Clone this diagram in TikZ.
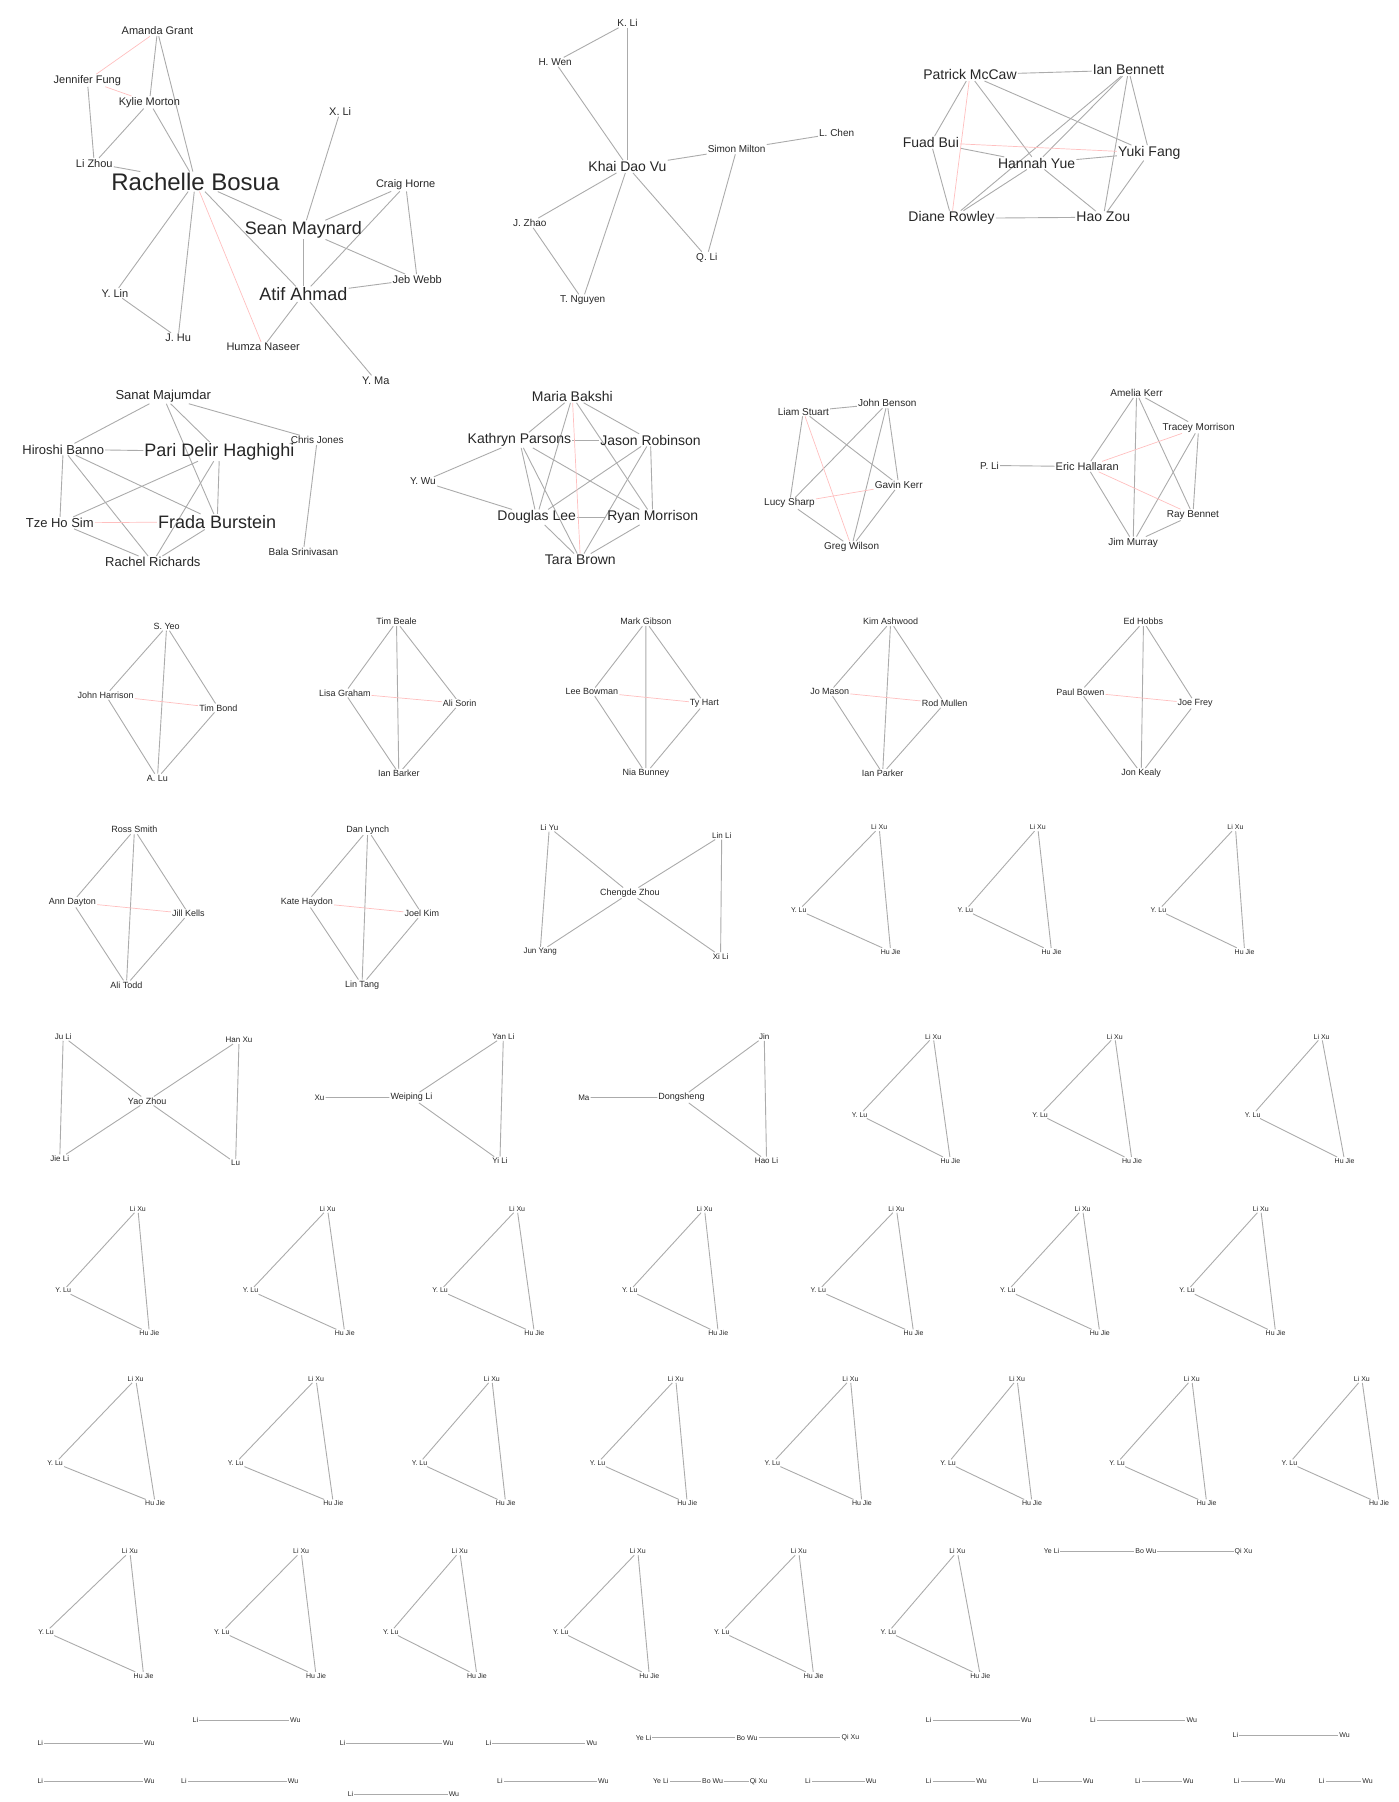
\documentclass[tikz,border=0pt]{standalone}
\usepackage{fontspec}
\setmainfont{Liberation Sans}
\pgfdeclarelayer{bg}
\pgfsetlayers{bg,main}
\tikzset{
  ed/.style={draw=black!33, line width=0.9pt},
  edr/.style={draw=red!25, line width=0.7pt},
  lab/.style={inner sep=1pt, text=black!85},
  fs/.style={font=\fontsize{#1}{#1}\selectfont},
}
\newcommand\lnk[2][ed]{\begin{pgfonlayer}{bg}\foreach \pa/\pb in {#2} \draw[#1] (\pa)--(\pb);\end{pgfonlayer}}
\begin{document}
\begin{tikzpicture}[x=1.1495pt,y=-1.1495pt]
\useasboundingbox (0,0) rectangle (1217,1568);

% ---------- component 1
\begin{scope}[every node/.style={lab,fs=11}]
\node (a1) at (137,27) {Amanda Grant};
\node (a2) at (76,70) {Jennifer Fung};
\node (a3) at (130,89) {Kylie Morton};
\node (a4) at (82,142) {Li Zhou};
\node[fs=24] (a5) at (170,158) {Rachelle Bosua};
\node (a6) at (296,97) {X. Li};
\node[fs=18] (a7) at (264,200) {Sean Maynard};
\node (a8) at (353,161) {Craig Horne};
\node (a9) at (363,243) {Jeb Webb};
\node[fs=18] (a10) at (264,256) {Atif Ahmad};
\node (a11) at (100,255) {Y. Lin};
\node (a12) at (155,294) {J. Hu};
\node (a13) at (229,302) {Humza Naseer};
\node (a14) at (327,331) {Y. Ma};
\end{scope}
\lnk{a1/a3,a1/a5,a2/a4,a3/a4,a3/a5,a4/a5,a5/a7,a5/a10,a5/a11,a5/a12,a7/a6,a7/a8,a7/a9,a7/a10,a10/a9,a10/a14,a10/a13,a11/a12,a8/a9,a8/a10}
\lnk[edr]{a1/a2,a2/a3,a5/a13}

% ---------- component 2
\begin{scope}[every node/.style={lab,fs=10}]
\node (b1) at (546,20) {K. Li};
\node (b2) at (483,54) {H. Wen};
\node[fs=14] (b3) at (546,145) {Khai Dao Vu};
\node (b4) at (641,130) {Simon Milton};
\node (b5) at (728,116) {L. Chen};
\node (b6) at (615,224) {Q. Li};
\node (b7) at (461,194) {J. Zhao};
\node (b8) at (507,261) {T. Nguyen};
\end{scope}
\lnk{b1/b3,b2/b1,b2/b3,b3/b4,b4/b5,b4/b6,b3/b6,b3/b7,b3/b8,b7/b8}

% ---------- component 3
\begin{scope}[every node/.style={lab,fs=14}]
\node (c1) at (844,65) {Patrick McCaw};
\node (c2) at (982,61) {Ian Bennett};
\node (c3) at (810,124) {Fuad Bui};
\node (c4) at (902,142) {Hannah Yue};
\node (c5) at (1000,133) {Yuki Fang};
\node (c6) at (828,190) {Diane Rowley};
\node (c7) at (960,189) {Hao Zou};
\end{scope}
\lnk{c1/c2,c1/c3,c1/c4,c1/c5,c2/c4,c2/c5,c2/c6,c2/c7,c3/c4,c3/c6,c4/c6,c4/c7,c5/c7,c6/c7,c4/c5}
\lnk[edr]{c1/c6,c3/c5}

% ---------- component 4
\begin{scope}[every node/.style={lab,fs=13}]
\node (d1) at (142,345) {Sanat Majumdar};
\node (d2) at (55,391) {Hiroshi Banno};
\node[fs=18] (d3) at (191,393) {Pari Delir Haghighi};
\node[fs=10] (d4) at (276,383) {Chris Jones};
\node (d5) at (52,455) {Tze Ho Sim};
\node[fs=18] (d6) at (189,454) {Frada Burstein};
\node (d7) at (133,489) {Rachel Richards};
\node[fs=10] (d8) at (264,480) {Bala Srinivasan};
\end{scope}
\lnk{d1/d2,d1/d3,d1/d6,d1/d4,d2/d3,d2/d5,d2/d6,d3/d5,d3/d6,d3/d7,d3/d4,d4/d8,d5/d7,d6/d7,d2/d7}
\lnk[edr]{d5/d6}

% ---------- component 5
\begin{scope}[every node/.style={lab,fs=14}]
\node (e1) at (498,345) {Maria Bakshi};
\node (e2) at (452,383) {Kathryn Parsons};
\node (e3) at (566,383) {Jason Robinson};
\node[fs=10] (e4) at (368,419) {Y. Wu};
\node (e5) at (467,450) {Douglas Lee};
\node (e6) at (568,450) {Ryan Morrison};
\node (e7) at (505,487) {Tara Brown};
\end{scope}
\lnk{e1/e2,e1/e3,e1/e5,e1/e6,e2/e3,e2/e5,e2/e6,e2/e7,e3/e5,e3/e6,e3/e7,e5/e6,e5/e7,e6/e7,e4/e2,e4/e5}
\lnk[edr]{e1/e7}

% ---------- component 6
\begin{scope}[every node/.style={lab,fs=10}]
\node (f1) at (699,358) {Liam Stuart};
\node (f2) at (772,351) {John Benson};
\node (f3) at (782,422) {Gavin Kerr};
\node (f4) at (687,438) {Lucy Sharp};
\node (f5) at (741,476) {Greg Wilson};
\end{scope}
\lnk{f1/f2,f1/f4,f2/f3,f2/f4,f2/f5,f3/f5,f4/f5,f1/f3}
\lnk[edr]{f1/f5,f3/f4}

% ---------- component 7
\begin{scope}[every node/.style={lab,fs=10}]
\node (g1) at (989,342) {Amelia Kerr};
\node (g2) at (1043,372) {Tracey Morrison};
\node[fs=11] (g3) at (946,406) {Eric Hallaran};
\node (g4) at (861,405) {P. Li};
\node (g5) at (1038,448) {Ray Bennet};
\node (g6) at (986,472) {Jim Murray};
\end{scope}
\lnk{g4/g3,g3/g1,g3/g6,g1/g2,g1/g6,g2/g5,g2/g6,g5/g6,g1/g5}
\lnk[edr]{g3/g2,g3/g5}

% ---------- diamonds (K4)
\foreach \i/\tx/\ty/\lx/\ly/\rx/\ry/\bx/\by/\ta/\tb/\tc/\td in {
  1/145/545/92/605/190/616/137/677/S. Yeo/John Harrison/Tim Bond/A. Lu,
  2/345/541/300/603/400/612/347/673/Tim Beale/Lisa Graham/Ali Sorin/Ian Barker,
  3/562/541/515/602/613/612/562/673/Mark Gibson/Lee Bowman/Ty Hart/Nia Bunney,
  4/775/541/722/602/822/612/768/673/Kim Ashwood/Jo Mason/Rod Mullen/Ian Parker,
  5/995/541/940/602/1040/612/993/673/Ed Hobbs/Paul Bowen/Joe Frey/Jon Kealy,
  6/117/722/63/785/164/795/110/857/Ross Smith/Ann Dayton/Jill Kells/Ali Todd,
  7/320/722/267/785/367/795/315/857/Dan Lynch/Kate Haydon/Joel Kim/Lin Tang}{
  \begin{scope}[every node/.style={lab,fs=9}]
  \node (q\i t) at (\tx,\ty) {\ta};
  \node (q\i l) at (\lx,\ly) {\tb};
  \node (q\i r) at (\rx,\ry) {\tc};
  \node (q\i b) at (\bx,\by) {\td};
  \end{scope}
  \begin{pgfonlayer}{bg}
  \draw[ed] (q\i t)--(q\i l)--(q\i b)--(q\i r)--(q\i t)--(q\i b);
  \draw[edr] (q\i l)--(q\i r);
  \end{pgfonlayer}
}

% ---------- bowties
\foreach \i/\ax/\ay/\bx/\by/\cx/\cy/\dx/\dy/\ex/\ey/\ta/\tb/\tc/\td/\te in {
  1/478/720/628/727/548/777/470/828/627/832/Li Yu/Lin Li/Chengde Zhou/Jun Yang/Xi Li,
  2/55/902/208/905/128/958/52/1008/205/1012/Ju Li/Han Xu/Yao Zhou/Jie Li/Lu}{
  \begin{scope}[every node/.style={lab,fs=8}]
  \node (w\i a) at (\ax,\ay) {\ta};
  \node (w\i b) at (\bx,\by) {\tb};
  \node[fs=9] (w\i c) at (\cx,\cy) {\tc};
  \node (w\i d) at (\dx,\dy) {\td};
  \node (w\i e) at (\ex,\ey) {\te};
  \end{scope}
  \begin{pgfonlayer}{bg}
  \draw[ed] (w\i a)--(w\i c)--(w\i e) (w\i b)--(w\i c)--(w\i d) (w\i a)--(w\i d) (w\i b)--(w\i e);
  \end{pgfonlayer}
}

% ---------- stars with a leaf
\foreach \i/\lx/\cx/\cy/\ux/\uy/\vx/\vy/\ta/\tb/\tc/\td in {
  1/278/358/955/438/902/435/1010/Xu/Weiping Li/Yan Li/Yi Li,
  2/508/593/955/665/902/667/1010/Ma/Dongsheng/Jin/Hao Li}{
  \begin{scope}[every node/.style={lab,fs=8}]
  \node (s\i l) at (\lx,\cy) {\ta};
  \node[fs=9] (s\i c) at (\cx,\cy) {\tb};
  \node (s\i u) at (\ux,\uy) {\tc};
  \node (s\i v) at (\vx,\vy) {\td};
  \end{scope}
  \begin{pgfonlayer}{bg}
  \draw[ed] (s\i l)--(s\i c)--(s\i u)--(s\i v)--(s\i c);
  \end{pgfonlayer}
}

% ---------- triangles
\foreach \i/\ax/\ay/\bx/\by/\cx/\cy in {
  1/765/720/695/792/775/828, 2/903/720/840/792/915/828, 3/1075/720/1008/792/1083/828,
  4/812/902/748/970/827/1010, 5/970/902/905/970/985/1010, 6/1150/902/1090/970/1170/1010,
  7/120/1052/55/1123/130/1160, 8/285/1052/218/1123/300/1160, 9/450/1052/383/1123/465/1160,
  10/613/1052/548/1123/625/1160, 11/780/1052/712/1123/795/1160, 12/942/1052/877/1123/957/1160,
  13/1097/1052/1033/1123/1110/1160,
  14/118/1200/48/1273/135/1308, 15/275/1200/205/1273/290/1308, 16/428/1200/365/1273/440/1308,
  17/588/1200/520/1273/598/1308, 18/740/1200/672/1273/750/1308, 19/885/1200/825/1273/898/1308,
  20/1037/1200/972/1273/1050/1308, 21/1185/1200/1122/1273/1200/1308,
  22/113/1350/40/1420/125/1458, 23/262/1350/193/1420/275/1458, 24/400/1350/340/1420/415/1458,
  25/555/1350/488/1420/565/1458, 26/695/1350/628/1420/708/1458, 27/833/1350/773/1420/853/1458}{
  \begin{scope}[every node/.style={lab,fs=7}]
  \node (t\i a) at (\ax,\ay) {Li Xu};
  \node (t\i b) at (\bx,\by) {Y. Lu};
  \node (t\i c) at (\cx,\cy) {Hu Jie};
  \end{scope}
  \begin{pgfonlayer}{bg}
  \draw[ed] (t\i a)--(t\i b)--(t\i c)--(t\i a);
  \end{pgfonlayer}
}

% ---------- paths of three
\foreach \i/\ax/\bx/\cx/\y in {1/915/997/1082/1350, 2/560/650/740/1512, 3/575/620/660/1550}{
  \begin{scope}[every node/.style={lab,fs=7}]
  \node (p\i a) at (\ax,\y) {Ye Li};
  \node (p\i b) at (\bx,\y) {Bo Wu};
  \node (p\i c) at (\cx,\y) {Qi Xu};
  \end{scope}
  \begin{pgfonlayer}{bg}
  \draw[ed] (p\i a)--(p\i b)--(p\i c);
  \end{pgfonlayer}
}

% ---------- pairs
\foreach \i/\ax/\bx/\y in {1/170/257/1497, 2/808/893/1497, 3/951/1037/1497,
  4/35/130/1517, 5/298/390/1517, 6/425/515/1517, 7/1075/1170/1510,
  8/35/130/1550, 9/160/255/1550, 10/435/525/1550, 11/703/758/1550, 12/808/854/1550,
  13/901/947/1550, 14/990/1034/1550, 15/1076/1114/1550, 16/1150/1190/1550, 17/305/395/1561}{
  \begin{scope}[every node/.style={lab,fs=7}]
  \node (r\i a) at (\ax,\y) {Li};
  \node (r\i b) at (\bx,\y) {Wu};
  \end{scope}
  \begin{pgfonlayer}{bg}
  \draw[ed] (r\i a)--(r\i b);
  \end{pgfonlayer}
}
\end{tikzpicture}
\end{document}
